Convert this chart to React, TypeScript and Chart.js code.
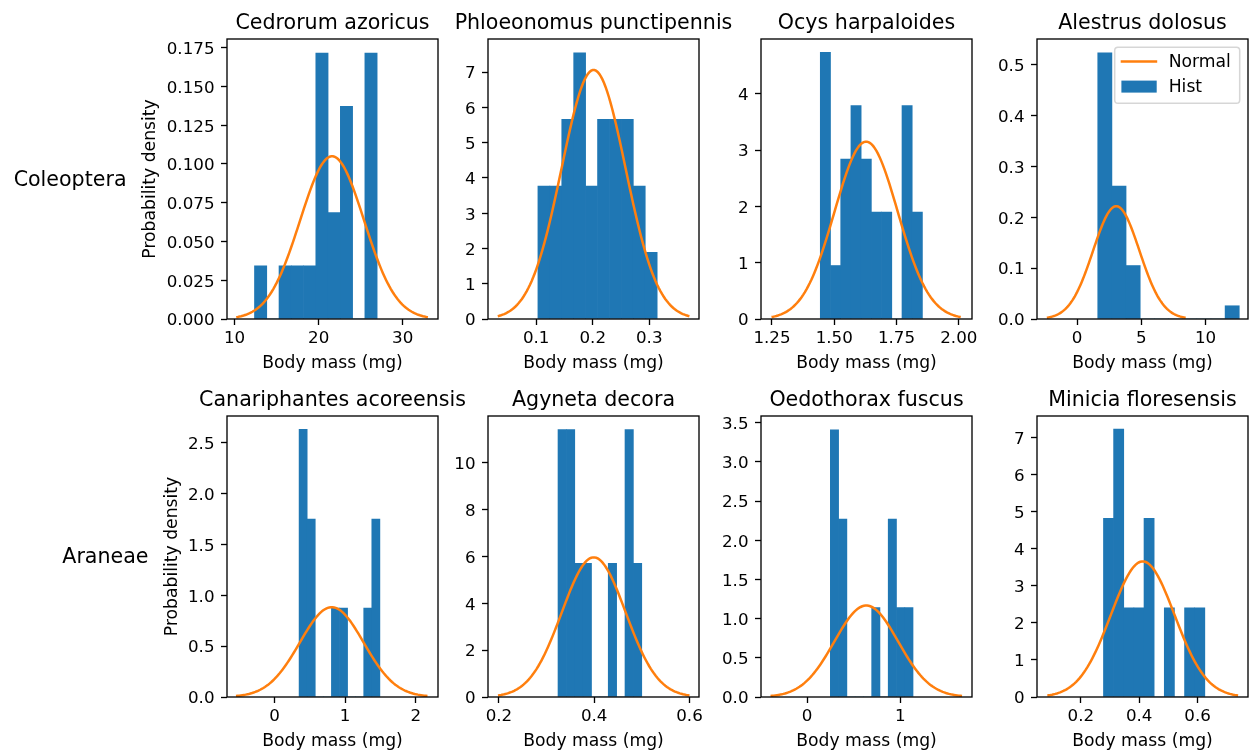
import { useEffect, useRef } from 'react';
import { Chart, registerables } from 'chart.js';

Chart.register(...registerables);

const FONT = "'DejaVu Sans', 'Liberation Sans', sans-serif";
const BLUE = '#1f77b4';
const ORANGE = '#ff7f0e';

// ---- data -------------------------------------------------------------
const speciesNames = [
  'Cedrorum azoricus',
  'Phloeonomus punctipennis',
  'Ocys harpaloides',
  'Alestrus dolosus',
  'Canariphantes acoreensis',
  'Agyneta decora',
  'Oedothorax fuscus',
  'Minicia floresensis',
];
const orderNames = ['Coleoptera', 'Araneae'];
const legendLabels = ['Normal', 'Hist'];
const xAxisLabel = 'Body mass (mg)';
const yAxisLabel = 'Probability density';

// histogram densities, 10 equal-width bins between binStart and binEnd
const cedrorumDensity = [0.0343, 0, 0.0343, 0.0343, 0.0343, 0.1715, 0.0686, 0.1372, 0, 0.1715];
const phloeonomusDensity = [3.77, 3.77, 5.66, 7.55, 3.77, 5.66, 5.66, 5.66, 3.77, 1.89];
const ocysDensity = [4.74, 0.95, 2.84, 3.79, 2.84, 1.9, 1.9, 0, 3.79, 1.9];
const alestrusDensity = [0.523, 0.261, 0.105, 0, 0, 0, 0, 0, 0, 0.026];
const canariphantesDensity = [2.63, 1.75, 0, 0, 0.875, 0.875, 0, 0, 0.875, 1.75];
const agynetaDensity = [11.4, 11.4, 5.7, 5.7, 0, 0, 5.7, 0, 11.4, 5.7];
const oedothoraxDensity = [3.41, 2.27, 0, 0, 0, 1.14, 0, 2.27, 1.14, 1.14];
const miniciaDensity = [4.82, 7.23, 2.41, 2.41, 4.82, 0, 2.41, 0, 2.41, 2.41];
const histDensities = [
  cedrorumDensity,
  phloeonomusDensity,
  ocysDensity,
  alestrusDensity,
  canariphantesDensity,
  agynetaDensity,
  oedothoraxDensity,
  miniciaDensity,
];
const binStart = [12.37, 0.103, 1.444, 1.61, 0.348, 0.324, 0.25, 0.2775];
const binEnd = [26.96, 0.314, 1.854, 12.62, 1.492, 0.4998, 1.136, 0.625];

// fitted normal distribution (curve drawn over mean ± 3 sd)
const fitMean = [21.6, 0.2015, 1.628, 3.05, 0.81, 0.399, 0.635, 0.412];
const fitSd = [3.8, 0.0565, 0.1266, 1.8, 0.452, 0.067, 0.342, 0.109];

// axis limits and ticks
const xLimLow = [9.1, 0.0147, 1.206, -3.117, -0.673, 0.177, -0.493, 0.0496];
const xLimHigh = [34.2, 0.388, 2.053, 13.3, 2.315, 0.62, 1.768, 0.773];
const yLimHigh = [0.1806, 7.94, 4.975, 0.55, 2.762, 11.98, 3.585, 7.585];
const xTickValues = [
  [10, 20, 30],
  [0.1, 0.2, 0.3],
  [1.25, 1.5, 1.75, 2.0],
  [0, 5, 10],
  [0, 1, 2],
  [0.2, 0.4, 0.6],
  [0, 1],
  [0.2, 0.4, 0.6],
];
const xTickDecimals = [0, 1, 2, 0, 0, 1, 0, 1];
const yTickValues = [
  [0, 0.025, 0.05, 0.075, 0.1, 0.125, 0.15, 0.175],
  [0, 1, 2, 3, 4, 5, 6, 7],
  [0, 1, 2, 3, 4],
  [0, 0.1, 0.2, 0.3, 0.4, 0.5],
  [0, 0.5, 1, 1.5, 2, 2.5],
  [0, 2, 4, 6, 8, 10],
  [0, 0.5, 1, 1.5, 2, 2.5, 3, 3.5],
  [0, 1, 2, 3, 4, 5, 6, 7],
];
const yTickDecimals = [3, 0, 0, 1, 1, 0, 1, 0];

// ---- layout -----------------------------------------------------------
const COL_LEFT = [227, 488, 761, 1037];
const AX_W = 211;
const ROW_TOP = [39, 416];
const AX_H = [280, 281];
const TICK_PX = 16.7;
const LABEL_PX = 17.2;
const TITLE_PX = 20.6;

function normalCurve(mean: number, sd: number) {
  const pts: { x: number; y: number }[] = [];
  const n = 120;
  const lo = mean - 3 * sd;
  const hi = mean + 3 * sd;
  for (let i = 0; i < n; i++) {
    const x = lo + ((hi - lo) * i) / (n - 1);
    const z = (x - mean) / sd;
    pts.push({ x, y: Math.exp(-0.5 * z * z) / (sd * Math.sqrt(2 * Math.PI)) });
  }
  return pts;
}

function histBars(start: number, end: number, dens: number[]) {
  const w = (end - start) / dens.length;
  return dens.map((d, i) => ({ x: start + (i + 0.5) * w, y: d }));
}

function Panel({ index }: { index: number }) {
  const ref = useRef<HTMLCanvasElement>(null);
  const col = index % 4;
  const row = Math.floor(index / 4);
  const padL = col === 0 ? COL_LEFT[0] : 100;
  const padR = col === 3 ? 1 : 40;
  const padT = 36;
  const padB = row === 0 ? 58 : 57;
  const axH = AX_H[row];
  const W = padL + AX_W + padR;
  const H = padT + axH + padB;
  const left = COL_LEFT[col] - padL;
  const top = ROW_TOP[row] - padT;

  useEffect(() => {
    if (!ref.current) return;
    const tickFont = { family: FONT, size: TICK_PX };
    const labelFont = { family: FONT, size: LABEL_PX };
    const showLegend = index === 3;
    const rowLabel = col === 0 ? orderNames[row] : null;
    const rowLabelGap = row === 0 ? 100.5 : 78.5;

    const decor = {
      id: 'panelDecor',
      afterDraw(chart: any) {
        const { ctx, chartArea: ca } = chart;
        ctx.save();
        // axes frame
        ctx.strokeStyle = '#000';
        ctx.lineWidth = 1.33;
        ctx.strokeRect(ca.left, ca.top, ca.right - ca.left, ca.bottom - ca.top);
        // panel title
        ctx.fillStyle = '#000';
        ctx.font = `${TITLE_PX}px ${FONT}`;
        ctx.textAlign = 'center';
        ctx.textBaseline = 'alphabetic';
        ctx.fillText(speciesNames[index], (ca.left + ca.right) / 2, ca.top - 10);
        // row label
        if (rowLabel) {
          ctx.textAlign = 'right';
          ctx.fillText(rowLabel, ca.left - rowLabelGap, (ca.top + ca.bottom) / 2 + 6.5);
        }
        // legend
        if (showLegend) {
          const bw = 125;
          const bh = 56;
          const bx = ca.right - 8.3 - bw;
          const by = ca.top + 8.3;
          const r = 3.3;
          ctx.beginPath();
          ctx.moveTo(bx + r, by);
          ctx.lineTo(bx + bw - r, by);
          ctx.arcTo(bx + bw, by, bx + bw, by + r, r);
          ctx.lineTo(bx + bw, by + bh - r);
          ctx.arcTo(bx + bw, by + bh, bx + bw - r, by + bh, r);
          ctx.lineTo(bx + r, by + bh);
          ctx.arcTo(bx, by + bh, bx, by + bh - r, r);
          ctx.lineTo(bx, by + r);
          ctx.arcTo(bx, by, bx + r, by, r);
          ctx.closePath();
          ctx.fillStyle = 'rgba(255,255,255,0.8)';
          ctx.fill();
          ctx.strokeStyle = 'rgba(204,204,204,0.8)';
          ctx.lineWidth = 1.5;
          ctx.stroke();

          ctx.strokeStyle = ORANGE;
          ctx.lineWidth = 2.5;
          ctx.beginPath();
          ctx.moveTo(bx + 6, by + 14.3);
          ctx.lineTo(bx + 42.5, by + 14.3);
          ctx.stroke();

          ctx.fillStyle = BLUE;
          ctx.fillRect(bx + 6.7, by + 33.3, 35.3, 12);

          ctx.fillStyle = '#000';
          ctx.font = `${LABEL_PX}px ${FONT}`;
          ctx.textAlign = 'left';
          ctx.fillText(legendLabels[0], bx + 54, by + 19.3);
          ctx.fillText(legendLabels[1], bx + 54, by + 44.9);
        }
        ctx.restore();
      },
    };

    const gridOpts = {
      display: true,
      drawOnChartArea: false,
      drawTicks: true,
      tickLength: 6,
      tickWidth: 1.33,
      tickColor: '#000',
      offset: false,
    };

    const chart = new Chart(ref.current, {
      type: 'bar',
      data: {
        datasets: [
          {
            type: 'line',
            label: legendLabels[0],
            data: normalCurve(fitMean[index], fitSd[index]),
            borderColor: ORANGE,
            borderWidth: 2.5,
            pointRadius: 0,
            fill: false,
            tension: 0,
            order: 0,
          } as any,
          {
            type: 'bar',
            label: legendLabels[1],
            data: histBars(binStart[index], binEnd[index], histDensities[index]),
            backgroundColor: BLUE,
            borderWidth: 0,
            barPercentage: 1,
            categoryPercentage: 1,
            order: 1,
          } as any,
        ],
      },
      options: {
        responsive: false,
        animation: false,
        events: [],
        layout: { padding: { left: 0, top: padT, right: padR, bottom: 0 } },
        plugins: {
          legend: { display: false },
          tooltip: { enabled: false },
          title: { display: false },
        },
        scales: {
          x: {
            type: 'linear',
            min: xLimLow[index],
            max: xLimHigh[index],
            offset: false,
            afterBuildTicks: (s: any) => {
              s.ticks = xTickValues[index].map((v) => ({ value: v }));
            },
            afterFit: (s: any) => {
              s.height = padB;
              s.paddingLeft = 0;
              s.paddingRight = 0;
            },
            ticks: {
              autoSkip: false,
              maxRotation: 0,
              minRotation: 0,
              padding: 4,
              color: '#000',
              font: tickFont,
              callback: (v: any) => Number(v).toFixed(xTickDecimals[index]),
            },
            grid: gridOpts,
            border: { display: false },
            title: {
              display: true,
              text: xAxisLabel,
              color: '#000',
              font: labelFont,
              padding: { top: 0, bottom: padB - 54.5 },
            },
          },
          y: {
            type: 'linear',
            min: 0,
            max: yLimHigh[index],
            afterBuildTicks: (s: any) => {
              s.ticks = yTickValues[index].map((v) => ({ value: v }));
            },
            afterFit: (s: any) => {
              s.width = padL;
              s.paddingTop = 0;
              s.paddingBottom = 0;
            },
            ticks: {
              autoSkip: false,
              padding: 6.5,
              labelOffset: 2,
              color: '#000',
              font: tickFont,
              callback: (v: any) => Number(v).toFixed(yTickDecimals[index]),
            },
            grid: gridOpts,
            border: { display: false },
            title: {
              display: col === 0,
              text: yAxisLabel,
              color: '#000',
              font: labelFont,
              padding: { top: row === 0 ? 140.5 : 162.1, bottom: 0 },
            },
          },
        },
      } as any,
      plugins: [decor],
    });
    return () => chart.destroy();
  }, []);

  return (
    <canvas
      ref={ref}
      width={W}
      height={H}
      style={{ position: 'absolute', left, top, width: W, height: H, display: 'block' }}
    />
  );
}

export default function App() {
  return (
    <div
      style={{
        position: 'absolute',
        left: 0,
        top: 0,
        width: 1249,
        height: 754,
        overflow: 'hidden',
        background: '#fff',
      }}
    >
      {speciesNames.map((_, i) => (
        <Panel key={i} index={i} />
      ))}
    </div>
  );
}
